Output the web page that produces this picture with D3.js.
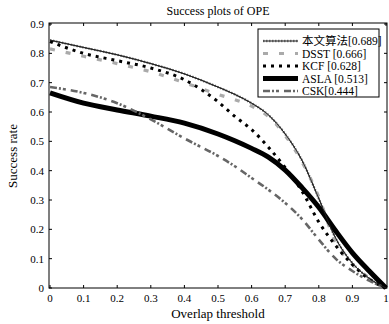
<!DOCTYPE html>
<html><head><meta charset="utf-8">
<script src="https://cdn.jsdelivr.net/npm/d3@7"></script>
<style>body{margin:0;background:#fff}svg{display:block}text{font-family:"Liberation Serif","DejaVu Serif","Noto Sans CJK SC",serif;fill:#000}</style>
</head><body><svg id="c" width="389" height="324"></svg>
<script>
const thresholds = [0,0.1,0.2,0.3,0.4,0.5,0.55,0.6,0.65,0.7,0.75,0.8,0.85,0.9,0.95,1.0];
const oursVals = [0.845,0.82,0.795,0.765,0.73,0.685,0.66,0.63,0.59,0.525,0.435,0.305,0.17,0.085,0.033,0];
const dsstVals = [0.815,0.79,0.765,0.737,0.70,0.66,0.642,0.62,0.585,0.52,0.43,0.31,0.155,0.08,0.035,0];
const kcfVals  = [0.84,0.80,0.775,0.75,0.71,0.635,0.585,0.54,0.48,0.41,0.33,0.225,0.145,0.08,0.03,0];
const aslaVals = [0.665,0.63,0.607,0.586,0.562,0.525,0.502,0.476,0.446,0.402,0.342,0.275,0.195,0.12,0.058,0];
const cskVals  = [0.685,0.665,0.63,0.575,0.51,0.45,0.415,0.375,0.335,0.29,0.235,0.165,0.1,0.058,0.025,0];
const seriesNames = ["本文算法[0.689]","DSST [0.666]","KCF [0.628]","ASLA [0.513]","CSK[0.444]"];
const xTicks = [0,0.1,0.2,0.3,0.4,0.5,0.6,0.7,0.8,0.9,1];
const yTicks = [0,0.1,0.2,0.3,0.4,0.5,0.6,0.7,0.8,0.9];

const styles = [
  [{stroke:"#888",w:2.4,dash:"1.5,1.5"},{stroke:"#222",w:1,dash:null}],
  [{stroke:"#aaa",w:3.2,dash:"5,11"}],
  [{stroke:"#000",w:3,dash:"3,5"}],
  [{stroke:"#000",w:5,dash:null}],
  [{stroke:"#666",w:2.6,dash:"7,2,2,2,3,5"}]
];
const allVals = [oursVals,dsstVals,kcfVals,aslaVals,cskVals];

const svg = d3.select("#c");
const L=49,R=387,T=23,B=288;
const x = d3.scaleLinear().domain([0,1]).range([L+1,R-1]);
const y = d3.scaleLinear().domain([0,0.9]).range([B,T+1]);

const g = svg.append("g");
g.append("rect").attr("x",L).attr("y",T).attr("width",R-L).attr("height",B-T)
 .attr("fill","none").attr("stroke","#000").attr("stroke-width",1);

xTicks.forEach(v=>{
  g.append("line").attr("x1",x(v)).attr("x2",x(v)).attr("y1",B).attr("y2",B-3).attr("stroke","#000");
  g.append("line").attr("x1",x(v)).attr("x2",x(v)).attr("y1",T).attr("y2",T+3).attr("stroke","#000");
  g.append("text").attr("x",x(v)).attr("y",B+14).attr("text-anchor","middle").attr("font-size",11).text(v);
});
yTicks.forEach(v=>{
  g.append("line").attr("x1",L).attr("x2",L+3).attr("y1",y(v)).attr("y2",y(v)).attr("stroke","#000");
  g.append("line").attr("x1",R).attr("x2",R-3).attr("y1",y(v)).attr("y2",y(v)).attr("stroke","#000");
  g.append("text").attr("x",L-5).attr("y",y(v)+4).attr("text-anchor","end").attr("font-size",11).text(v);
});

const line = d3.line().x(d=>x(d[0])).y(d=>y(d[1])).curve(d3.curveMonotoneX);
allVals.forEach((vals,i)=>{
  const pts = thresholds.map((t,j)=>[t,vals[j]]);
  styles[i].forEach(s=>{
    g.append("path").attr("d",line(pts)).attr("fill","none").attr("stroke",s.stroke)
     .attr("stroke-width",s.w).attr("stroke-dasharray",s.dash);
  });
});
{
  const pts = thresholds.map((t,j)=>[t,oursVals[j]]);
  g.append("path").attr("d",line(pts)).attr("fill","none").attr("stroke","#222").attr("stroke-width",0.9);
}

const lx=258, ly=29, lw=121, lh=68;
g.append("rect").attr("x",lx).attr("y",ly).attr("width",lw).attr("height",lh).attr("fill","#fff").attr("stroke","#000");
seriesNames.forEach((n,i)=>{
  const yy = ly+12+i*12.5;
  styles[i].forEach(s=>{
    g.append("line").attr("x1",lx+5).attr("x2",lx+40).attr("y1",yy).attr("y2",yy)
     .attr("stroke",s.stroke).attr("stroke-width",s.w).attr("stroke-dasharray",s.dash);
  });
  g.append("text").attr("x",lx+44).attr("y",yy+4).attr("font-size",11.5).text(n);
});

svg.append("text").attr("x",218).attr("y",15).attr("text-anchor","middle").attr("font-size",12).text("Success  plots of OPE");
svg.append("text").attr("x",218).attr("y",318).attr("text-anchor","middle").attr("font-size",13).text("Overlap  threshold");
svg.append("text").attr("transform","translate(17,156) rotate(-90)").attr("text-anchor","middle").attr("font-size",13).text("Success  rate");
</script></body></html>
